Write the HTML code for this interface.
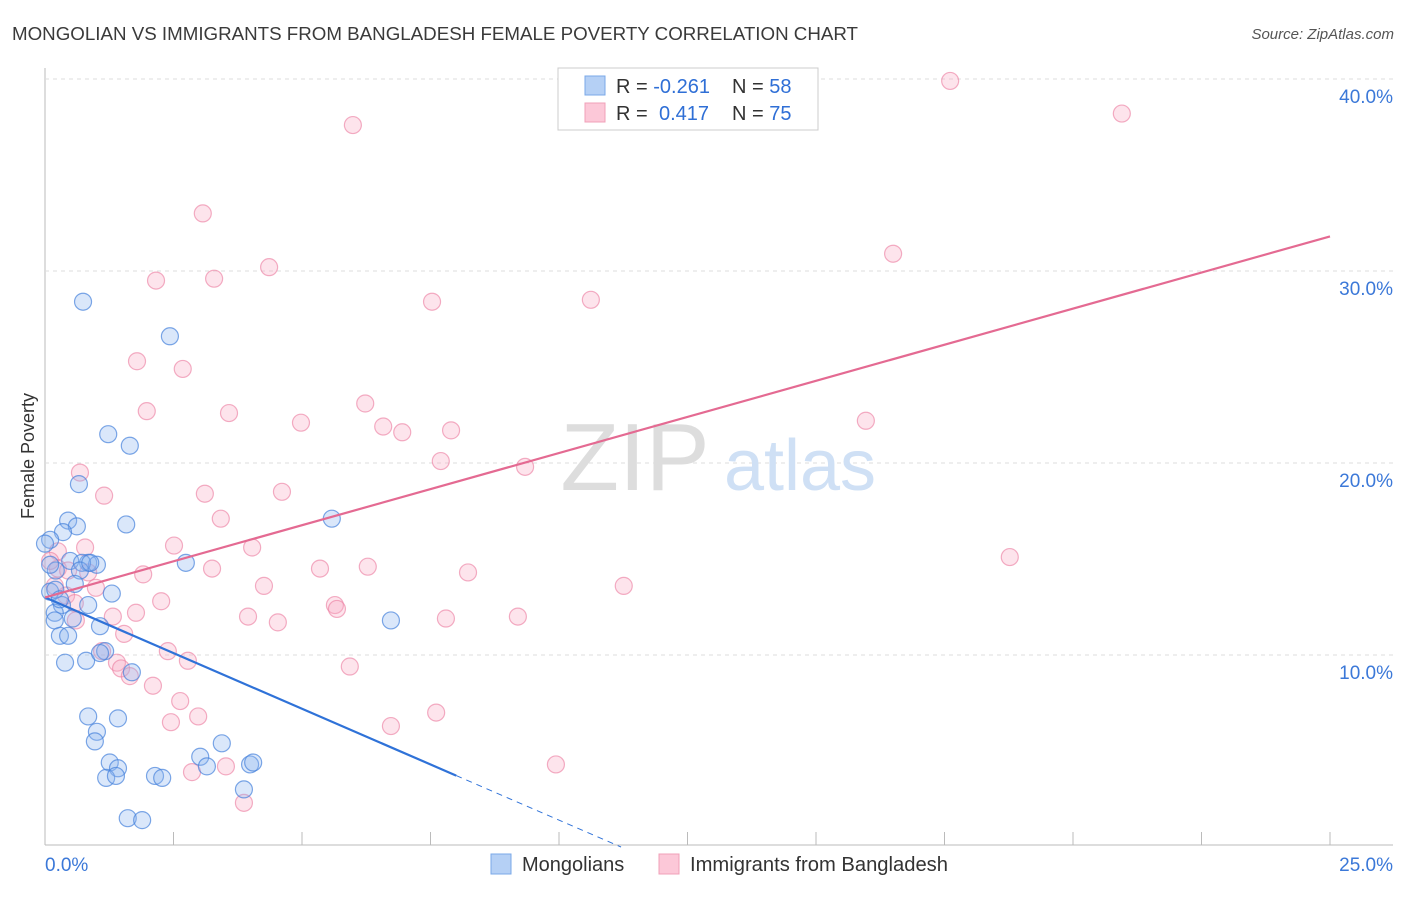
<!DOCTYPE html>
<html><head><meta charset="utf-8"><style>
body{margin:0;background:#fff;font-family:"Liberation Sans",sans-serif;}
svg text{font-family:"Liberation Sans",sans-serif;}
</style></head><body>
<svg id="chart" width="1406" height="892">
<text x="12" y="40" font-size="18" fill="#3a3a3a" textLength="846" lengthAdjust="spacingAndGlyphs">MONGOLIAN VS IMMIGRANTS FROM BANGLADESH FEMALE POVERTY CORRELATION CHART</text>
<text x="1394" y="39" font-size="15" fill="#555" font-style="italic" text-anchor="end">Source: ZipAtlas.com</text>
<text transform="translate(34,456) rotate(-90)" font-size="18" fill="#333" text-anchor="middle">Female Poverty</text>
<g id="grid"></g>
<g id="watermark">
<text x="635" y="490" font-size="96" fill="#ddd" font-family="Liberation Serif" text-anchor="middle">ZIP</text>
<text x="800" y="490" font-size="72" fill="#cfe0f5" text-anchor="middle">atlas</text>
</g>
<g id="pink"></g><g id="blue"></g><g id="lines"></g>
<g>
<rect x="558" y="68" width="260" height="62" fill="#fff" stroke="#ccc"/>
<rect x="585" y="76" width="20" height="19" fill="#b5d0f5" stroke="#7aa8e8"/>
<rect x="585" y="103" width="20" height="19" fill="#fcc8d8" stroke="#f0a0b8"/>
<text x="616" y="93" font-size="20" fill="#333">R = <tspan fill="#2f6fd6">-0.261</tspan></text>
<text x="732" y="93" font-size="20" fill="#333">N = <tspan fill="#2f6fd6">58</tspan></text>
<text x="616" y="120" font-size="20" fill="#333">R = </text>
<text x="659" y="120" font-size="20" fill="#2f6fd6">0.417</text>
<text x="732" y="120" font-size="20" fill="#333">N = <tspan fill="#2f6fd6">75</tspan></text>
</g>
<g>
<rect x="491" y="854" width="20" height="20" fill="#b5d0f5" stroke="#7aa8e8"/>
<text x="522" y="871" font-size="20" fill="#333">Mongolians</text>
<rect x="659" y="854" width="20" height="20" fill="#fcc8d8" stroke="#f0a0b8"/>
<text x="690" y="871" font-size="20" fill="#333" textLength="258" lengthAdjust="spacingAndGlyphs">Immigrants from Bangladesh</text>
</g>
</svg>
<script>
const xTickLabels=["0.0%","25.0%"];
const yTickValues=[10,20,30,40];
const yTickLabels=["10.0%","20.0%","30.0%","40.0%"];
const blueX=[0.74,2.43,1.23,1.65,0.66,0.45,0.62,0.35,1.58,5.58,0.10,0.49,0.84,1.01,0.72,0.21,2.74,0.10,0.33,0.84,1.30,0.19,0.19,0.54,1.07,0.29,0.45,1.17,1.69,0.39,0.80,6.73,0.84,1.42,1.01,0.97,3.44,3.02,3.15,1.26,1.42,1.19,1.38,2.14,2.28,3.99,4.05,3.87,1.61,1.89,0.0,0.1,0.2,0.68,0.88,0.29,0.58,1.07];
const blueY=[28.4,26.6,21.5,20.9,18.9,17.0,16.7,16.4,16.8,17.1,16.0,14.9,14.8,14.7,14.8,14.4,14.8,13.3,12.6,12.6,13.2,12.2,11.8,11.9,11.5,11.0,11.0,10.2,9.1,9.6,9.7,11.8,6.8,6.7,6.0,5.5,5.4,4.7,4.2,4.4,4.1,3.6,3.7,3.7,3.6,4.3,4.4,3.0,1.5,1.4,15.8,14.7,13.4,14.4,14.8,12.9,13.7,10.1];
const pinkX=[17.61,5.99,20.95,3.07,16.50,2.16,3.29,4.36,7.53,10.62,1.79,2.68,1.98,3.58,6.23,4.98,6.58,6.95,7.90,15.97,7.70,9.34,0.68,1.15,3.11,4.61,3.42,2.51,4.03,18.77,0.78,0.25,0.25,0.45,0.84,1.91,3.25,5.35,6.28,8.23,11.26,4.26,0.99,0.41,2.26,0.58,5.64,5.68,1.77,3.95,1.32,4.53,7.80,9.20,0.60,1.54,1.11,2.39,2.78,1.40,1.48,5.93,1.65,2.10,2.63,7.61,2.98,2.45,6.73,9.94,3.52,2.86,3.87,0.10,0.19];
const pinkY=[39.9,37.6,38.2,33.0,30.9,29.5,29.6,30.2,28.4,28.5,25.3,24.9,22.7,22.6,23.1,22.1,21.9,21.6,21.7,22.2,20.1,19.8,19.5,18.3,18.4,18.5,17.1,15.7,15.6,15.1,15.6,15.4,14.5,14.4,14.3,14.2,14.5,14.5,14.6,14.3,13.6,13.6,13.5,13.1,12.8,12.7,12.6,12.4,12.2,12.0,12.0,11.7,11.9,12.0,11.8,11.1,10.2,10.2,9.7,9.6,9.3,9.4,8.9,8.4,7.6,7.0,6.8,6.5,6.3,4.3,4.2,3.9,2.3,14.9,13.6];
const blueTrend=[13.0,-1.16];
const pinkTrend=[13.0,0.752];
const NS="http://www.w3.org/2000/svg";
const sx=v=>45+v*51.4, sy=v=>847-v*19.2;
function mk(p,t,a){const e=document.createElementNS(NS,t);for(const k in a)e.setAttribute(k,a[k]);p.appendChild(e);return e;}
const grid=document.getElementById('grid');
let ax=mk(grid,'line',{x1:45,y1:68,x2:45,y2:845,stroke:'#bbb'});


let bx=mk(grid,'line',{x1:45,y1:845,x2:1393,y2:845,stroke:'#bbb'});


for(let i=1;i<=10;i++){const t=mk(grid,'line',{x1:sx(i*2.5),y1:832,x2:sx(i*2.5),y2:845,stroke:'#bbb'});

}
yTickValues.forEach((v,i)=>{const g=mk(grid,'line',{x1:45,y1:sy(v),x2:1393,y2:sy(v),stroke:'#ddd','stroke-dasharray':'4,4'});


const t=mk(grid,'text',{x:1393,y:sy(v)+24,'font-size':19,fill:'#3b78d8','text-anchor':'end'});t.textContent=yTickLabels[i];

});
xTickLabels.forEach((l,i)=>{const t=mk(grid,'text',{x:i?1393:45,y:871,'font-size':19,fill:'#3b78d8','text-anchor':i?'end':'start'});t.textContent=l;

});
const pg=document.getElementById('pink'),bg=document.getElementById('blue');
pinkX.forEach((x,i)=>{const c=mk(pg,'circle',{cx:sx(x),cy:sy(pinkY[i]),r:8.5,fill:'rgba(248,170,195,0.32)',stroke:'rgba(236,130,165,0.65)','stroke-width':1.2});

});
blueX.forEach((x,i)=>{const c=mk(bg,'circle',{cx:sx(x),cy:sy(blueY[i]),r:8.5,fill:'rgba(140,180,240,0.32)',stroke:'rgba(70,130,220,0.7)','stroke-width':1.2});

});
const lg=document.getElementById('lines');
const bEnd=8.0,bZero=-blueTrend[0]/blueTrend[1];
let l1=mk(lg,'line',{x1:sx(0),y1:sy(blueTrend[0]),x2:sx(bEnd),y2:sy(blueTrend[0]+blueTrend[1]*bEnd),stroke:'#2f72d8','stroke-width':2.2});


let l2=mk(lg,'line',{x1:sx(bEnd),y1:sy(blueTrend[0]+blueTrend[1]*bEnd),x2:sx(bZero),y2:sy(0),stroke:'#2f72d8','stroke-width':1,'stroke-dasharray':'6,5'});


let l3=mk(lg,'line',{x1:sx(0),y1:sy(pinkTrend[0]),x2:sx(25),y2:sy(pinkTrend[0]+pinkTrend[1]*25),stroke:'#e46a92','stroke-width':2.2});


</script>
</body></html>
